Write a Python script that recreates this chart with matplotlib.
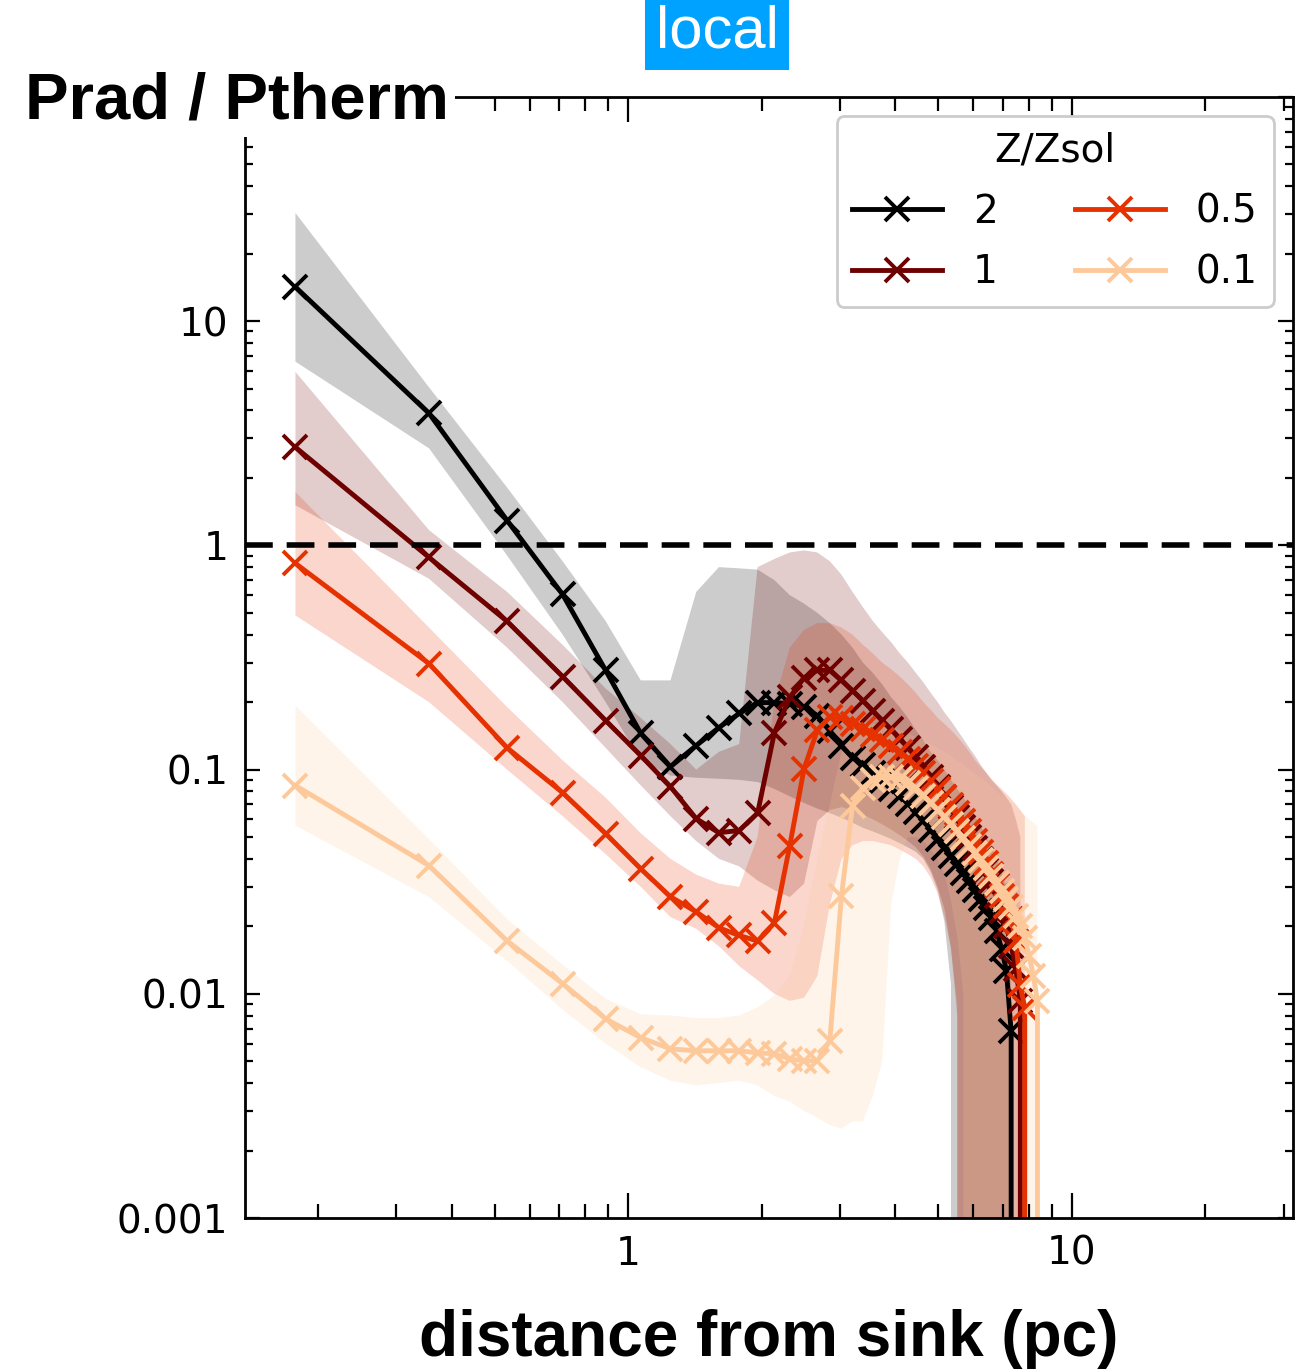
import numpy as np
import matplotlib
matplotlib.use("Agg")
import matplotlib.pyplot as plt
from matplotlib.ticker import FixedLocator, FixedFormatter, LogLocator, NullFormatter

# ---------------- data ----------------
distance_pc = [0.178, 0.356, 0.534, 0.712, 0.89, 1.068, 1.246, 1.424, 1.602, 1.78,
               1.958, 2.136, 2.314, 2.492, 2.67, 2.848, 3.026, 3.204, 3.382, 3.56,
               3.738, 3.916, 4.094, 4.272, 4.45, 4.628, 4.806, 4.984, 5.162, 5.34,
               5.518, 5.696, 5.874, 6.052, 6.23, 6.408, 6.586, 6.764, 6.942, 7.12,
               7.298, 7.476, 7.654, 7.832, 8.01, 8.188, 8.366, 8.544]

series_labels = ["2", "1", "0.5", "0.1"]
series_colors = ["#000000", "#6e0000", "#e63200", "#fdc99a"]

med_z2 = [14.2, 3.88, 1.29, 0.604, 0.277, 0.145, 0.103, 0.128, 0.154, 0.178,
          0.199, 0.199, 0.197, 0.191, 0.174, 0.149, 0.128, 0.113, 0.105, 0.097,
          0.0893, 0.0823, 0.0765, 0.0705, 0.0649, 0.0592, 0.054, 0.0492, 0.0449, 0.0413,
          0.038, 0.0347, 0.032, 0.0291, 0.0265, 0.0242, 0.0218, 0.0191, 0.0159, 0.0127,
          0.0068, 0, 0, 0, 0, 0, 0, 0]
lo_z2 = [6.6, 2.71, 0.9, 0.4, 0.2, 0.11, 0.094, 0.092, 0.091, 0.09,
         0.088, 0.082, 0.076, 0.071, 0.067, 0.064, 0.061, 0.058, 0.055, 0.053,
         0.051, 0.049, 0.047, 0.045, 0.043, 0.04, 0.035, 0.029, 0.021, 0.011,
         0, 0, 0, 0, 0, 0, 0, 0, 0, 0,
         0, 0, 0, 0, 0, 0, 0, 0]
hi_z2 = [30.4, 5.07, 1.81, 0.85, 0.46, 0.25, 0.25, 0.62, 0.8, 0.79,
         0.78, 0.7, 0.6, 0.55, 0.5, 0.45, 0.4, 0.35, 0.3, 0.27,
         0.24, 0.21, 0.19, 0.17, 0.15, 0.135, 0.12, 0.11, 0.1, 0.09,
         0.082, 0.075, 0.068, 0.062, 0.056, 0.05, 0.045, 0.04, 0.035, 0.03,
         0.025, 0, 0, 0, 0, 0, 0, 0]

med_z1 = [2.74, 0.884, 0.458, 0.26, 0.1655, 0.1155, 0.0839, 0.0604, 0.0523, 0.0535,
          0.064, 0.146, 0.21, 0.257, 0.277, 0.277, 0.25, 0.225, 0.203, 0.183,
          0.1655, 0.151, 0.1375, 0.1254, 0.1143, 0.1031, 0.0931, 0.084, 0.0757, 0.0684,
          0.0617, 0.0557, 0.0502, 0.0449, 0.0401, 0.0358, 0.0319, 0.0274, 0.0235, 0.0201,
          0.0164, 0.0129, 0.0093, 0, 0, 0, 0, 0]
lo_z1 = [1.51, 0.71, 0.35, 0.2, 0.125, 0.085, 0.062, 0.048, 0.04, 0.037,
         0.032, 0.029, 0.027, 0.031, 0.059, 0.066, 0.068, 0.066, 0.063, 0.06,
         0.057, 0.054, 0.051, 0.048, 0.045, 0.041, 0.036, 0.03, 0.024, 0.016,
         0.008, 0, 0, 0, 0, 0, 0, 0, 0, 0,
         0, 0, 0, 0, 0, 0, 0, 0]
hi_z1 = [5.94, 1.17, 0.62, 0.36, 0.23, 0.17, 0.13, 0.1, 0.12, 0.13,
         0.8, 0.87, 0.93, 0.95, 0.93, 0.85, 0.74, 0.62, 0.53, 0.46,
         0.41, 0.37, 0.33, 0.3, 0.27, 0.245, 0.22, 0.2, 0.18, 0.165,
         0.15, 0.137, 0.125, 0.115, 0.105, 0.097, 0.09, 0.085, 0.08, 0.075,
         0.07, 0.06, 0.05, 0, 0, 0, 0, 0]

med_z05 = [0.831, 0.297, 0.125, 0.0789, 0.0518, 0.0361, 0.0271, 0.0232, 0.0197, 0.0182,
           0.0172, 0.0207, 0.0458, 0.101, 0.15, 0.172, 0.17, 0.16, 0.151, 0.143,
           0.136, 0.128, 0.12, 0.112, 0.104, 0.097, 0.0893, 0.0823, 0.0757, 0.0698,
           0.0643, 0.0592, 0.0534, 0.0482, 0.0431, 0.0385, 0.0343, 0.0307, 0.0274, 0.0247,
           0.0216, 0.0172, 0.0109, 0.00866, 0, 0, 0, 0]
lo_z05 = [0.487, 0.2, 0.1, 0.062, 0.042, 0.03, 0.022, 0.0195, 0.0163, 0.0133,
          0.0115, 0.01, 0.0093, 0.0096, 0.012, 0.025, 0.04, 0.046, 0.048, 0.048,
          0.047, 0.046, 0.044, 0.042, 0.04, 0.037, 0.033, 0.028, 0.022, 0.016,
          0.009, 0, 0, 0, 0, 0, 0, 0, 0, 0,
          0, 0, 0, 0, 0, 0, 0, 0]
hi_z05 = [1.73, 0.43, 0.19, 0.11, 0.075, 0.052, 0.04, 0.034, 0.031, 0.03,
          0.05, 0.2, 0.35, 0.42, 0.45, 0.45, 0.43, 0.4, 0.36, 0.33,
          0.3, 0.28, 0.26, 0.24, 0.22, 0.2, 0.185, 0.17, 0.16, 0.15,
          0.14, 0.13, 0.12, 0.11, 0.103, 0.097, 0.091, 0.086, 0.082, 0.078,
          0.074, 0.07, 0.066, 0.062, 0, 0, 0, 0]

med_z01 = [0.0849, 0.0373, 0.0172, 0.0111, 0.00773, 0.00637, 0.00568, 0.00557, 0.00557, 0.00557,
           0.00545, 0.0054, 0.00513, 0.00502, 0.00502, 0.00617, 0.0274, 0.069, 0.083, 0.09,
           0.0931, 0.0931, 0.0911, 0.0875, 0.083, 0.0765, 0.0713, 0.0663, 0.0617, 0.0574,
           0.0534, 0.0497, 0.0458, 0.0426, 0.0397, 0.0365, 0.0336, 0.0313, 0.0288, 0.0265,
           0.0245, 0.0223, 0.0201, 0.0178, 0.0148, 0.012, 0.0093, 0]
lo_z01 = [0.0562, 0.027, 0.014, 0.0085, 0.006, 0.0047, 0.0041, 0.0039, 0.004, 0.0041,
          0.0039, 0.0035, 0.0033, 0.003, 0.0028, 0.0026, 0.0025, 0.0027, 0.0027, 0.0035,
          0.005, 0.025, 0.04, 0.05, 0.05, 0.048, 0.044, 0.04, 0.034, 0.026,
          0.018, 0.01, 0, 0, 0, 0, 0, 0, 0, 0,
          0, 0, 0, 0, 0, 0, 0, 0]
hi_z01 = [0.193, 0.049, 0.0215, 0.0135, 0.0095, 0.0081, 0.008, 0.0078, 0.0078, 0.008,
          0.0087, 0.0098, 0.012, 0.02, 0.04, 0.07, 0.12, 0.15, 0.16, 0.16,
          0.16, 0.155, 0.15, 0.145, 0.14, 0.135, 0.13, 0.125, 0.12, 0.115,
          0.11, 0.105, 0.1, 0.096, 0.092, 0.088, 0.084, 0.08, 0.077, 0.074,
          0.071, 0.068, 0.065, 0.062, 0.06, 0.058, 0.056, 0]

y_ticks = [1e-3, 1e-2, 1e-1, 1, 10, 100]
y_tick_labels = ["0.001", "0.01", "0.1", "1", "10", ""]
x_ticks = [1, 10]
x_tick_labels = ["1", "10"]

# ---------------- figure ----------------
W, H = 1307, 1370
fig = plt.figure(figsize=(W / 100, H / 100), dpi=100)
ax = fig.add_axes([245 / W, 1 - 1218 / H, (1293 - 245) / W, (1218 - 97) / H])

meds = [med_z2, med_z1, med_z05, med_z01]
los = [lo_z2, lo_z1, lo_z05, lo_z01]
his = [hi_z2, hi_z1, hi_z05, hi_z01]

for lo, hi, c in zip(los, his, series_colors):
    ax.fill_between(distance_pc, lo, hi, color=c, alpha=0.2, lw=0)

handles = []
for med, c, lab in zip(meds, series_colors, series_labels):
    h, = ax.plot(distance_pc, med, color=c, lw=3.5, marker="x", ms=17, mew=2.8, label=lab)
    handles.append(h)

ax.axhline(1, color="black", lw=4, ls=(0, (5.0, 2.5)))

ax.set_xscale("log")
ax.set_yscale("log")
ax.set_xlim(0.137, 31.5)
ax.set_ylim(1e-3, 100)

ax.yaxis.set_major_locator(FixedLocator(y_ticks))
ax.yaxis.set_major_formatter(FixedFormatter(y_tick_labels))
ax.yaxis.set_minor_locator(LogLocator(base=10, subs=np.arange(2, 10), numticks=20))
ax.yaxis.set_minor_formatter(NullFormatter())
ax.xaxis.set_major_locator(FixedLocator(x_ticks))
ax.xaxis.set_major_formatter(FixedFormatter(x_tick_labels))
ax.xaxis.set_minor_locator(LogLocator(base=10, subs=np.arange(2, 10), numticks=20))
ax.xaxis.set_minor_formatter(NullFormatter())

ax.tick_params(which="both", direction="in", top=True, right=True, width=1.6,
               labelsize=28)
ax.tick_params(axis="x", which="major", length=18, pad=12)
ax.tick_params(axis="x", which="minor", length=10)
ax.tick_params(axis="y", which="major", length=11, pad=12)
ax.tick_params(axis="y", which="minor", length=6)
for s in ax.spines.values():
    s.set_linewidth(2)

ax.set_xlabel("distance from sink (pc)", fontsize=46, fontweight="bold",
              family=["Liberation Sans", "DejaVu Sans"], labelpad=26)

leg = ax.legend(handles=handles, title="Z/Zsol", ncol=2, loc="upper right",
                fontsize=28, title_fontsize=28, handlelength=2.3,
                columnspacing=2.0, labelspacing=0.58, handletextpad=0.8,
                framealpha=1, edgecolor="#cccccc", fancybox=True)
leg.get_frame().set_linewidth(2)

fig.text(25 / W, 1 - 101 / H, "Prad / Ptherm", fontsize=47, fontweight="bold",
         family=["Liberation Sans", "DejaVu Sans"], ha="left", va="center",
         bbox=dict(facecolor="white", edgecolor="none", pad=4), zorder=10)

fig.text(717 / W, 1 - 32 / H, "local", fontsize=43, color="white",
         family=["Liberation Sans", "DejaVu Sans"], ha="center", va="center",
         bbox=dict(facecolor="#00a2ff", edgecolor="none", boxstyle="square,pad=0.18"))

fig.savefig("out.png", dpi=100)
